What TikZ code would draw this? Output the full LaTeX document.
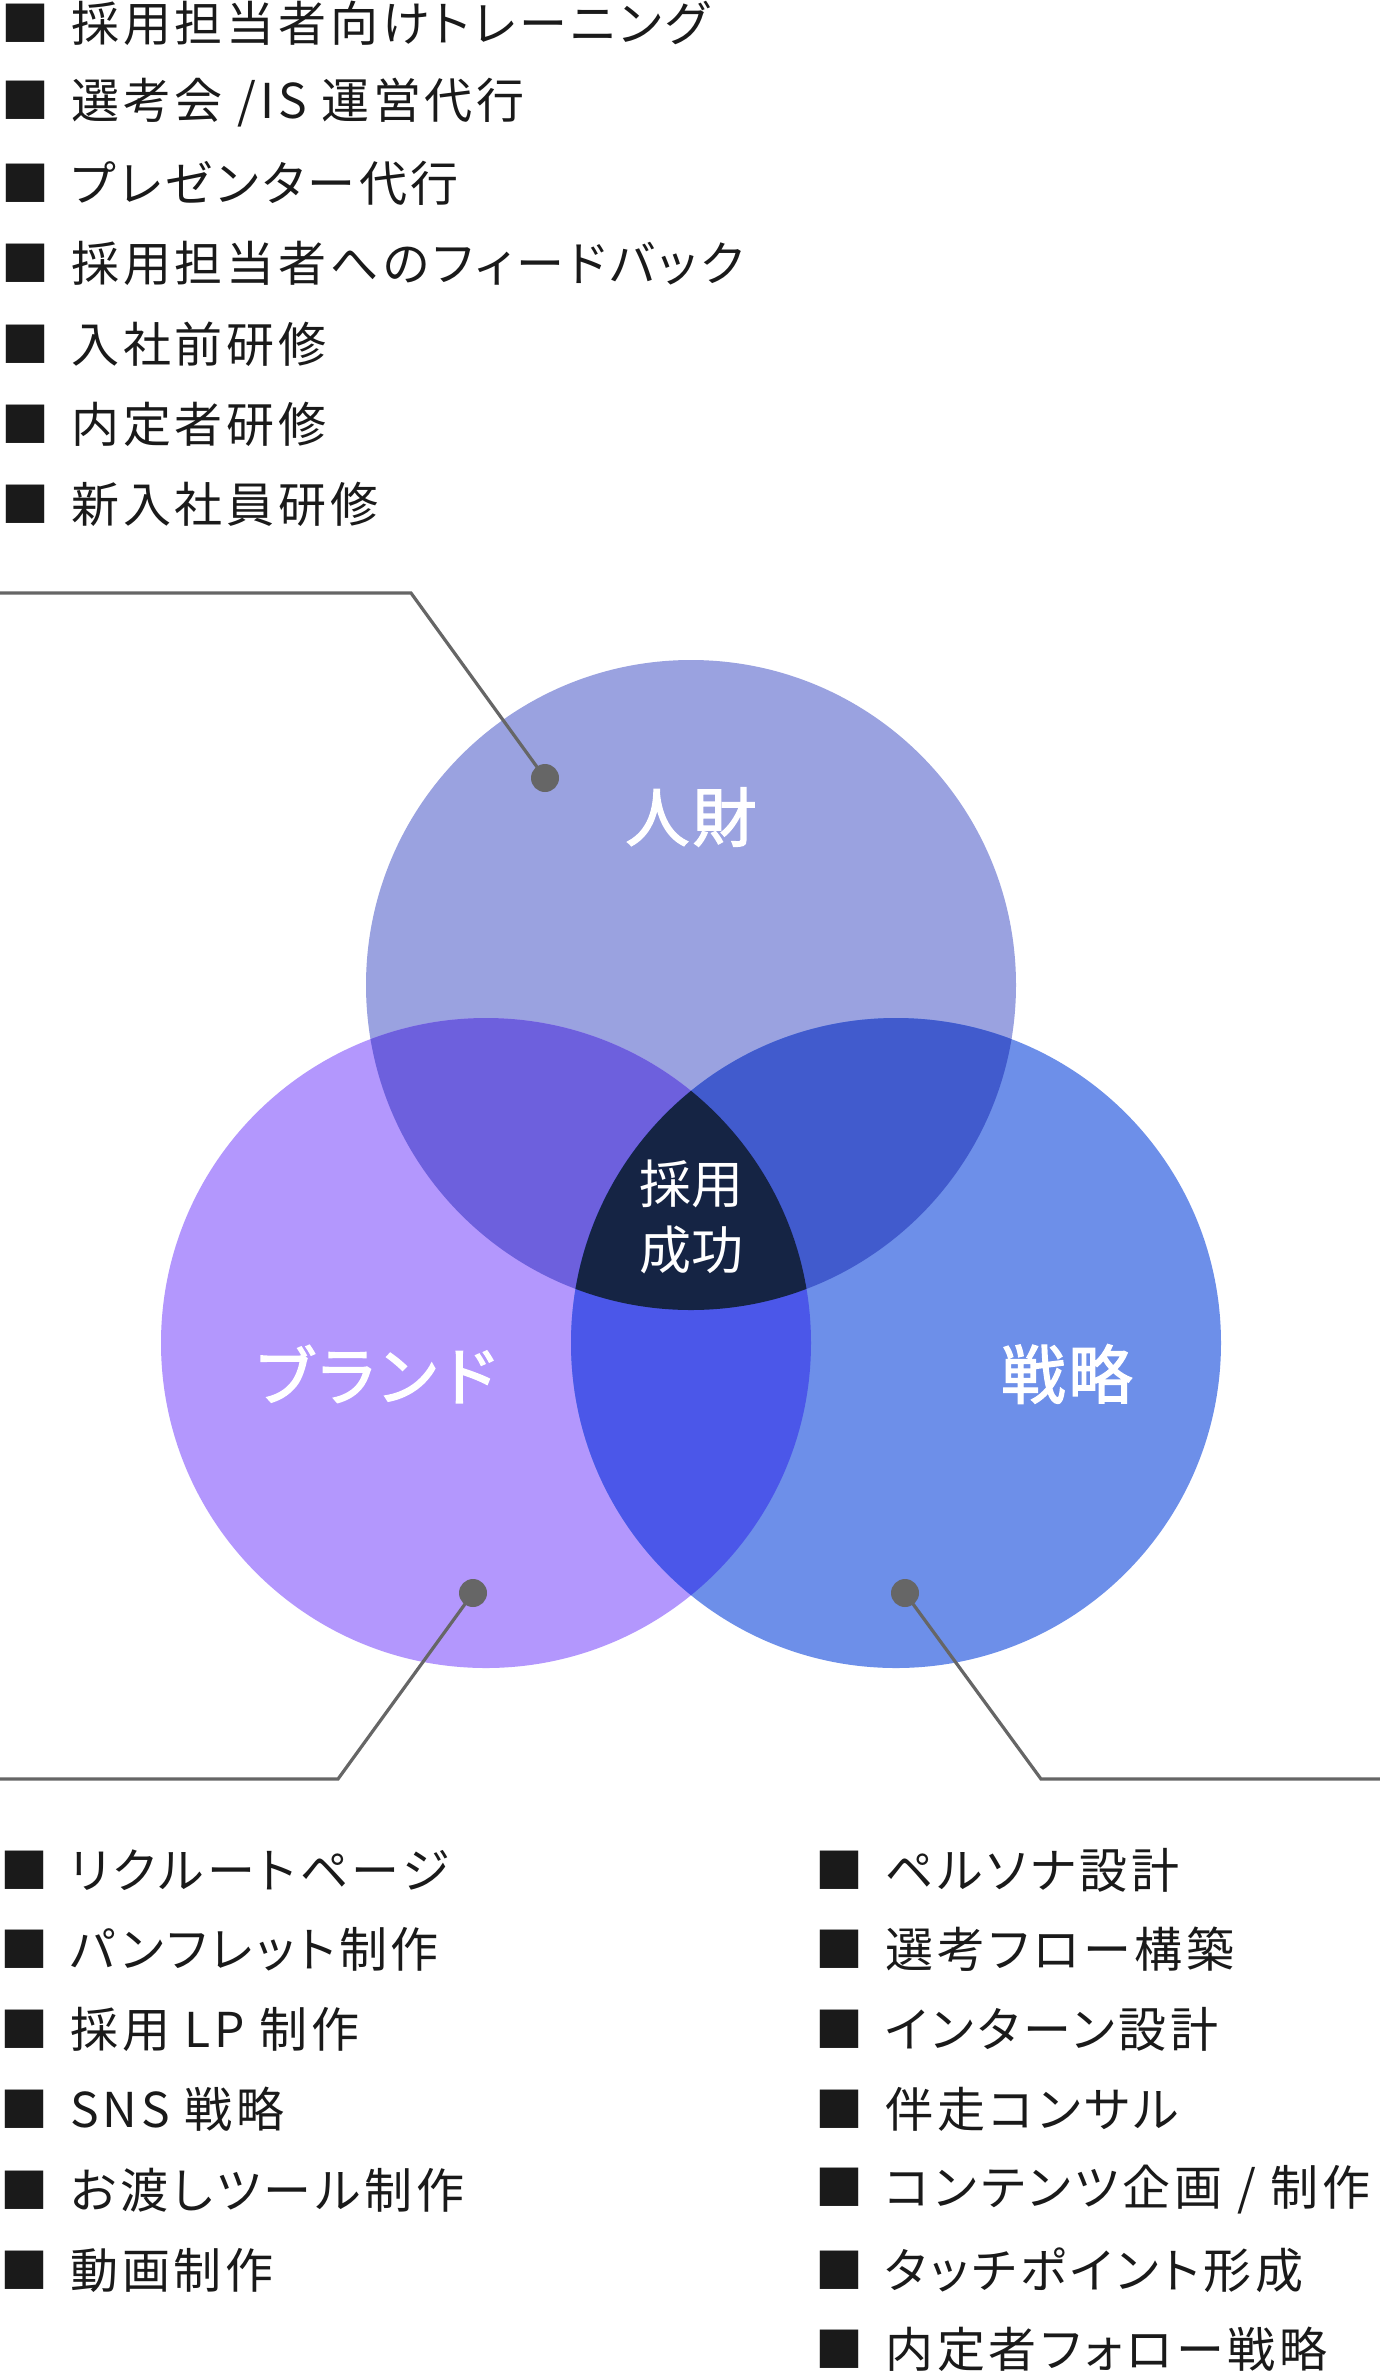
\documentclass[tikz,border=0pt]{standalone}
\usepackage{fontspec}
\setmainfont{Noto Sans CJK JP}
\definecolor{cTop}{HTML}{9AA2E0}
\definecolor{cLeft}{HTML}{B397FD}
\definecolor{cRight}{HTML}{6D8FE9}
\definecolor{cTL}{HTML}{6D60DD}
\definecolor{cTR}{HTML}{415BCD}
\definecolor{cLR}{HTML}{4B57E9}
\definecolor{cAll}{HTML}{152444}
\definecolor{leader}{HTML}{666666}
\definecolor{ink}{HTML}{1A1A1A}
\tikzset{
  item/.style={anchor=west,inner sep=0pt,text=ink,font=\fontsize{48pt}{52pt}\selectfont\addfontfeatures{LetterSpace=8,RawFeature=+palt}},
  biglabel/.style={text=white,inner sep=0pt,font=\fontsize{64pt}{70pt}\selectfont\addfontfeatures{FakeBold=2.2,LetterSpace=5}},
  brandlabel/.style={text=white,inner sep=0pt,font=\fontsize{64pt}{70pt}\selectfont\addfontfeatures{FakeBold=2.2,LetterSpace=-4}},
  centerlabel/.style={text=white,inner sep=0pt,align=center,font=\fontsize{52pt}{66pt}\selectfont},
  leaderline/.style={draw=leader,line width=3.2pt},
  leaderdot/.style={circle,fill=leader,minimum size=28pt,inner sep=0pt}
}
\newcommand{\bul}{■\hspace{22pt}}
\begin{document}
\begin{tikzpicture}[x=1pt,y=-1pt]
\useasboundingbox (0,0) rectangle (1380,2372);
\fill[white] (0,0) rectangle (1380,2372);
% circles
\coordinate (T) at (691,985);
\coordinate (L) at (486,1343);
\coordinate (R) at (896,1343);
\fill[cTop] (T) circle[radius=325pt];
\fill[cLeft] (L) circle[radius=325pt];
\fill[cRight] (R) circle[radius=325pt];
\begin{scope}
  \clip (T) circle[radius=325pt];
  \fill[cTL] (L) circle[radius=325pt];
  \fill[cTR] (R) circle[radius=325pt];
\end{scope}
\begin{scope}
  \clip (L) circle[radius=325pt];
  \fill[cLR] (R) circle[radius=325pt];
\end{scope}
\begin{scope}
  \clip (T) circle[radius=325pt];
  \clip (L) circle[radius=325pt];
  \fill[cAll] (R) circle[radius=325pt];
\end{scope}
% labels
\node[biglabel] (jinzai) at (691,817) {人財};
\node[brandlabel] (brand) at (377,1374) {ブランド};
\node[biglabel] (senryaku) at (1067,1374) {戦略};
\node[centerlabel] (seiko) at (691,1217) {採用\\成功};
% leaders
\node[leaderdot] (dotA) at (545,778) {};
\node[leaderdot] (dotB) at (473,1593) {};
\node[leaderdot] (dotC) at (905,1593) {};
\coordinate (a0) at (0,593);
\coordinate (a1) at (411,593);
\coordinate (b0) at (0,1779);
\coordinate (b1) at (338,1779);
\coordinate (c0) at (1380,1779);
\coordinate (c1) at (1041,1779);
\draw[leaderline] (a0) -- (a1) -- (dotA.center);
\draw[leaderline] (b0) -- (b1) -- (dotB.center);
\draw[leaderline] (c0) -- (c1) -- (dotC.center);
% top list
\node[item] (t1) at (1,23) {\bul 採用担当者向けトレーニング};
\node[item] (t2) at (1,103) {\bul 選考会 /IS 運営代行};
\node[item] (t3) at (1,183) {\bul プレゼンター代行};
\node[item] (t4) at (1,263) {\bul 採用担当者へのフィードバック};
\node[item] (t5) at (1,344) {\bul 入社前研修};
\node[item] (t6) at (1,424) {\bul 内定者研修};
\node[item] (t7) at (1,504) {\bul 新入社員研修};
% bottom left list
\node[item] (l1) at (0,1870) {\bul リクルートページ};
\node[item] (l2) at (0,1949) {\bul パンフレット制作};
\node[item] (l3) at (0,2029) {\bul 採用 LP 制作};
\node[item] (l4) at (0,2109) {\bul SNS 戦略};
\node[item] (l5) at (0,2190) {\bul お渡しツール制作};
\node[item] (l6) at (0,2270) {\bul 動画制作};
% bottom right list
\node[item] (r1) at (815,1870) {\bul ペルソナ設計};
\node[item] (r2) at (815,1949) {\bul 選考フロー構築};
\node[item] (r3) at (815,2029) {\bul インターン設計};
\node[item] (r4) at (815,2109) {\bul 伴走コンサル};
\node[item] (r5) at (815,2190) {\bul コンテンツ企画 / 制作};
\node[item] (r6) at (815,2270) {\bul タッチポイント形成};
\node[item] (r7) at (815,2349) {\bul 内定者フォロー戦略};
\end{tikzpicture}
\end{document}
